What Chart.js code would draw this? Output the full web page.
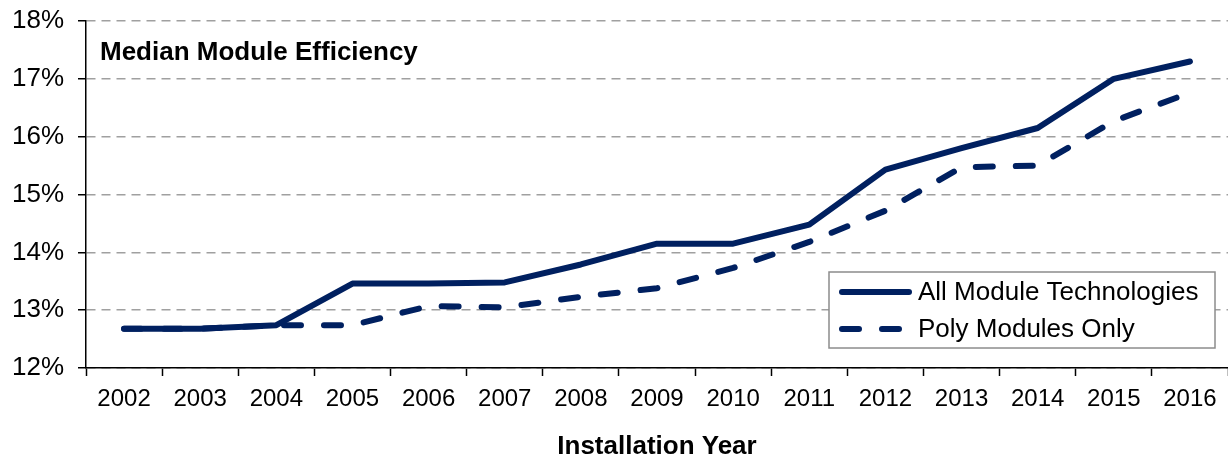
<!DOCTYPE html>
<html>
<head>
<meta charset="utf-8">
<script src="https://cdn.jsdelivr.net/npm/chart.js@4/dist/chart.umd.min.js"></script>
<style>
  html, body { margin: 0; padding: 0; background: #fff; }
  #wrap { width: 1228px; height: 458px; position: relative; }
</style>
</head>
<body>
<div id="wrap"><canvas id="effChart"></canvas></div>
<script>
// data
const years = ["2002", "2003", "2004", "2005", "2006", "2007", "2008", "2009",
  "2010", "2011", "2012", "2013", "2014", "2015", "2016"];
const allModules = [12.68, 12.68, 12.74, 13.46, 13.46, 13.48, 13.79, 14.15,
  14.15, 14.48, 15.43, 15.8, 16.15, 17.0, 17.3];
const polyModules = [12.68, 12.68, 12.74, 12.74, 13.07, 13.05, 13.23, 13.38,
  13.73, 14.18, 14.72, 15.47, 15.5, 16.27, 16.76];
const yTicks = [12, 13, 14, 15, 16, 17, 18];

const navy = "#002060";
const font = "'Liberation Sans', Arial, sans-serif";

// chart title drawn inside the plot area
const insideTitle = {
  id: "insideTitle",
  afterDraw(chart) {
    const { ctx, chartArea } = chart;
    ctx.save();
    ctx.font = "bold 26px " + font;
    ctx.fillStyle = "#000";
    ctx.textBaseline = "alphabetic";
    ctx.fillText("Median Module Efficiency", chartArea.left + 14, chartArea.top + 39);
    ctx.restore();
  }
};

// boxed legend in the lower right of the plot
const boxLegend = {
  id: "boxLegend",
  afterDraw(chart) {
    const { ctx } = chart;
    const x = 829, y = 272, w = 386, h = 76;
    ctx.save();
    ctx.fillStyle = "#fff";
    ctx.fillRect(x, y, w, h);
    ctx.strokeStyle = "#8c8c8c";
    ctx.lineWidth = 1.5;
    ctx.strokeRect(x, y, w, h);
    ctx.font = "26px " + font;
    ctx.textBaseline = "middle";
    chart.data.datasets.forEach((ds, i) => {
      const ly = y + 20 + i * 37;
      ctx.strokeStyle = ds.borderColor;
      ctx.lineWidth = ds.borderWidth;
      ctx.lineCap = "round";
      ctx.setLineDash(ds.borderDash || []);
      ctx.beginPath();
      ctx.moveTo(x + 13, ly);
      ctx.lineTo(x + 80, ly);
      ctx.stroke();
      ctx.setLineDash([]);
      ctx.fillStyle = "#000";
      ctx.fillText(ds.label, x + 89, ly + 1);
    });
    ctx.restore();
  }
};

new Chart(document.getElementById("effChart"), {
  type: "line",
  data: {
    labels: years,
    datasets: [
      {
        label: "All Module Technologies",
        data: allModules,
        borderColor: navy,
        borderWidth: 6,
        borderCapStyle: "round",
        borderJoinStyle: "round",
        pointRadius: 0,
        tension: 0,
        order: 1
      },
      {
        label: "Poly Modules Only",
        data: polyModules,
        borderColor: navy,
        borderWidth: 6,
        borderDash: [17, 23],
        borderCapStyle: "round",
        borderJoinStyle: "round",
        pointRadius: 0,
        tension: 0,
        order: 2
      }
    ]
  },
  options: {
    responsive: true,
    maintainAspectRatio: false,
    animation: false,
    layout: { padding: { top: 21, right: 0, bottom: 0, left: 0 } },
    plugins: {
      legend: { display: false },
      tooltip: { enabled: false }
    },
    scales: {
      x: {
        offset: true,
        grid: {
          display: true,
          drawOnChartArea: false,
          drawTicks: true,
          tickLength: 8,
          tickColor: "#000",
          tickWidth: 1.5,
          offset: true
        },
        border: { display: true, color: "#000", width: 1.5 },
        ticks: {
          color: "#000",
          padding: 9,
          maxRotation: 0,
          autoSkip: false,
          font: { family: font, size: 24 }
        },
        title: {
          display: true,
          text: "Installation Year",
          color: "#000",
          font: { family: font, size: 26, weight: "bold", lineHeight: 0.85 },
          padding: { top: 0, bottom: 0 }
        },
        afterFit(scale) { scale.height = 90; }
      },
      y: {
        min: 12,
        max: 18,
        afterBuildTicks(scale) {
          scale.ticks = yTicks.map(v => ({ value: v }));
        },
        grid: {
          color: "#a0a0a0",
          lineWidth: 1.5,
          drawTicks: true,
          tickLength: 8,
          tickColor: "#000",
          tickWidth: 1.5,
          tickBorderDash: []
        },
        border: { display: true, color: "#000", width: 1.5, dash: [9, 6] },
        ticks: {
          color: "#000",
          padding: 14,
          font: { family: font, size: 26, lineHeight: 0.5 },
          callback: v => v + "%"
        },
        afterFit(scale) { scale.width = 86; }
      }
    }
  },
  plugins: [insideTitle, boxLegend]
});
</script>
</body>
</html>
